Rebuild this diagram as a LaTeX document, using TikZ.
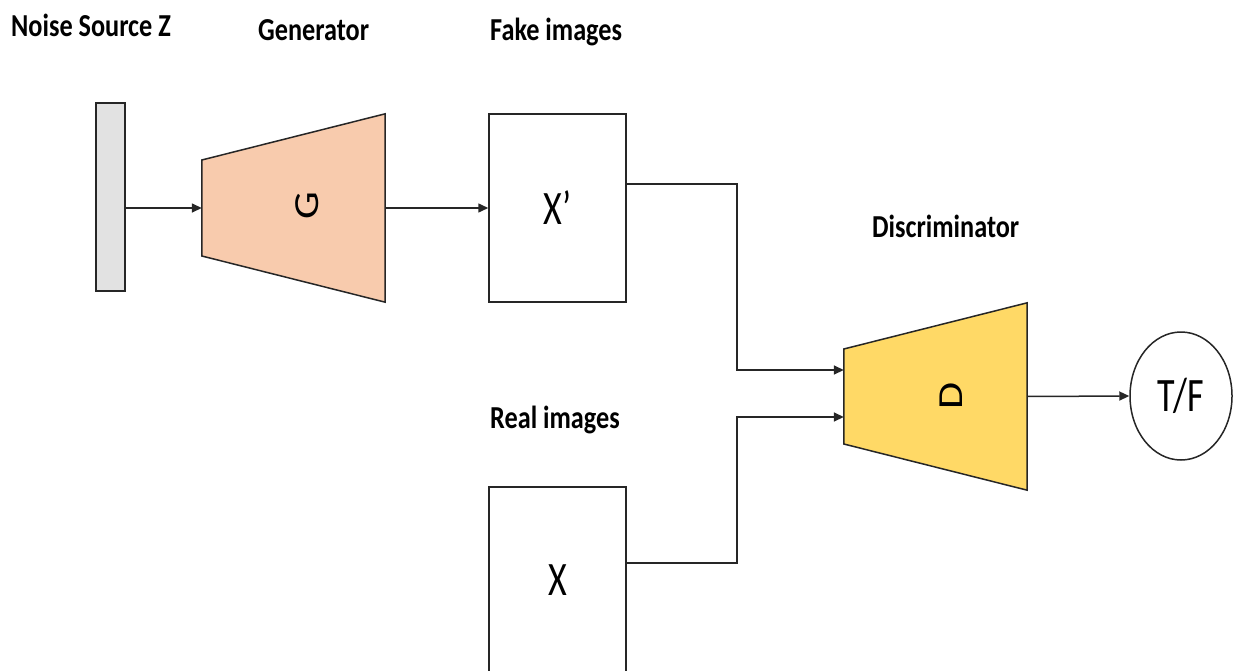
\documentclass[tikz,border=0pt]{standalone}
\usepackage{fontspec}
\usepackage{graphicx}
\usetikzlibrary{arrows.meta,shapes.geometric,calc}
\newfontfamily\lblfont[FakeStretch=0.82]{Carlito}
\newfontfamily\bigfont[FakeStretch=0.75]{Carlito}
\newfontfamily\symfont{Carlito}
\definecolor{genfill}{HTML}{F8CBAD}
\definecolor{disfill}{HTML}{FFD966}
\definecolor{noisefill}{HTML}{E2E2E2}
\definecolor{edge}{HTML}{262626}
\begin{document}
\begin{tikzpicture}[x=1pt,y=-1pt,
  wire/.style={draw=edge, line width=1.5pt},
  arr/.style={wire, -{Triangle[length=10pt,width=9pt]}},
  outline/.style={draw=edge, line width=1.5pt, line join=miter},
  imgbox/.style={outline, fill=white, minimum width=137pt, inner sep=0pt,
    font=\bigfont\fontsize{48}{48}\selectfont},
  netbox/.style={minimum width=183pt, inner sep=0pt},
  netletter/.style={rotate=90, inner sep=0pt, font=\symfont\fontsize{44}{44}\selectfont},
  caption/.style={anchor=base west, inner sep=0pt,
    font=\lblfont\bfseries\fontsize{32}{32}\selectfont}]
\useasboundingbox (0,0) rectangle (1238,671);

% noise vector
\node[outline, fill=noisefill, minimum width=29pt, minimum height=188pt, inner sep=0pt] (Z) at (110.5,197) {};

% generator
\node[netbox, minimum height=188pt] (G) at (293.5,208) {};
\draw[outline, fill=genfill] ([yshift=48pt]G.west) -- (G.north east) -- (G.south east) -- ([yshift=-48pt]G.west) -- cycle;
\node[netletter] (Gtxt) at (307,206) {\scalebox{1}[0.8]{G}};

% fake and real samples
\node[imgbox, minimum height=188pt] (Xp) at (557.5,208) {X’};
\node[imgbox, minimum height=186pt] (X) at (557.5,580) {X};

% discriminator
\node[netbox, minimum height=187pt] (D) at (935.5,396.5) {};
\draw[outline, fill=disfill] ([yshift=47.5pt]D.west) -- (D.north east) -- (D.south east) -- ([yshift=-47.5pt]D.west) -- cycle;
\node[netletter] (Dtxt) at (951,396) {\scalebox{1}[0.8]{D}};

% decision
\node[ellipse, draw=edge, line width=1.5pt, minimum width=102pt, minimum height=128pt, inner sep=0pt,
  font=\bigfont\fontsize{48}{48}\selectfont] (TF) at (1181,396) {T/F};

% connectors
\draw[arr] (Z.east |- G.west) -- (G.west);
\draw[arr] (G.east) -- (Xp.west);
\draw[arr] ([yshift=24pt]Xp.east) -- ++(110,0) |- ([yshift=26.5pt]D.west);
\draw[arr] ([yshift=17pt]X.east) -- ++(110,0) |- ([yshift=-20.5pt]D.west);
\draw[arr] (D.east) -- (TF.west);

% captions
\node[caption] (capZ) at (11,37) {Noise Source Z};
\node[caption] (capG) at (258,41) {Generator};
\node[caption] (capF) at (490,41) {Fake images};
\node[caption] (capD) at (872,237) {Discriminator};
\node[caption] (capR) at (490,428) {Real images};
\end{tikzpicture}
\end{document}
